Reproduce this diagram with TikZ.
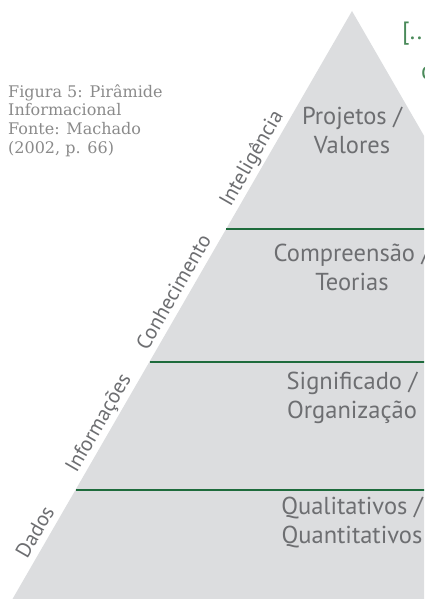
\documentclass[tikz,border=0pt]{standalone}
\usepackage{fontspec}
\setmainfont{PT Sans}
\newfontfamily\capfont{DejaVu Serif}
\definecolor{pyrgray}{HTML}{DCDDDF}
\definecolor{lvlgreen}{HTML}{1E6B3C}
\definecolor{txtgray}{HTML}{6D6E71}
\definecolor{capgray}{HTML}{8A8A8A}
\definecolor{quotegreen}{HTML}{4A8A5A}
\begin{document}
\begin{tikzpicture}[x=1pt,y=-1pt,
  level/.style={draw=lvlgreen,line width=2.5pt},
  inner/.style={text=txtgray,align=center,font=\fontsize{24.5}{28.5}\selectfont,inner sep=0pt},
  side/.style={text=txtgray,font=\fontsize{21}{24}\selectfont,rotate=60,anchor=base,inner sep=0pt},
]
\useasboundingbox (0,0) rectangle (424,599);
\clip (0,0) rectangle (424,599);
\coordinate (apex) at (352,11);
\coordinate (bl) at (12.5,599);
\coordinate (br) at (691.5,599);
\fill[pyrgray] (apex) -- (bl) -- (br) -- cycle;
% level lines
\coordinate (l1) at (226.3,229);
\coordinate (l2) at (149.6,362);
\coordinate (l3) at (75.9,490);
\coordinate (r1) at (430,229);
\coordinate (r2) at (430,362);
\coordinate (r3) at (430,490);
\draw[level] (l1) -- (r1);
\draw[level] (l2) -- (r2);
\draw[level] (l3) -- (r3);
% inner labels
\node[inner,anchor=base] (t1) at (352,153) {Projetos /\\Valores};
\node[inner,anchor=base] (t2) at (352,290) {Compreensão /\\Teorias};
\node[inner,anchor=base] (t3) at (352,418) {Significado /\\Organização};
\node[inner,anchor=base] (t4) at (352,543) {Qualitativos /\\Quantitativos};
% side labels
\node[side] (s1) at (41.1,535.5) {Dados};
\node[side] (s2) at (104,426.5) {Informações};
\node[side] (s3) at (179.6,295.5) {Conhecimento};
\node[side] (s4) at (257,161.5) {Inteligência};
% caption
\node[anchor=base west,align=left,inner sep=0pt,text=capgray,
  font=\capfont\fontsize{16}{18.5}\selectfont] (cap) at (8,153)
  {Figura 5: Pirâmide\\Informacional\\Fonte: Machado\\(2002, p. 66)};
% quote fragment
\node[anchor=base west,inner sep=0pt,text=quotegreen,
  font=\fontsize{25}{30}\selectfont] (q1) at (402,40) {[...]};
\node[anchor=base west,inner sep=0pt,text=quotegreen,
  font=\fontsize{25}{30}\selectfont] (q2) at (421,80) {o};
\end{tikzpicture}
\end{document}
